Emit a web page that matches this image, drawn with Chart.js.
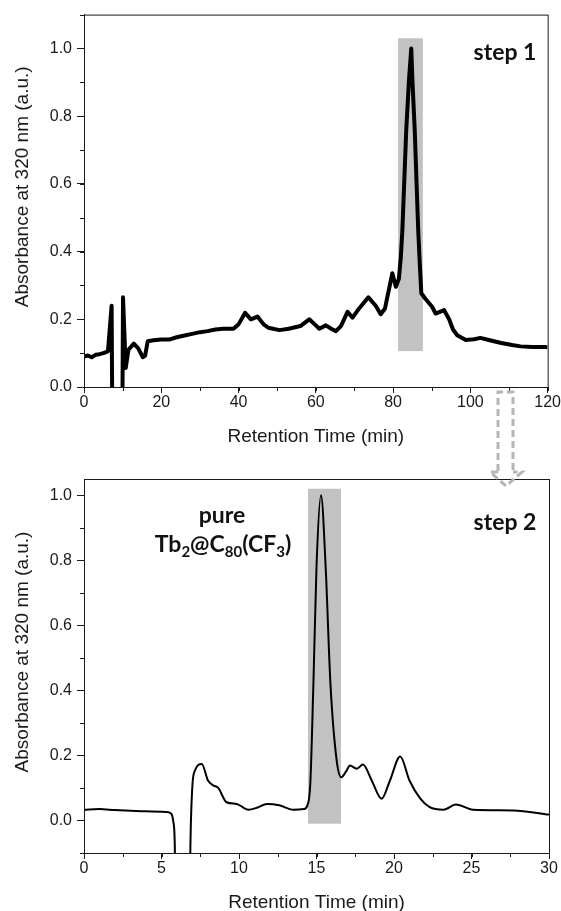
<!DOCTYPE html>
<html>
<head>
<meta charset="utf-8">
<script src="https://cdn.jsdelivr.net/npm/chart.js@4.4.1/dist/chart.umd.min.js"></script>
<style>
	html, body { margin: 0; padding: 0; background: #fff; width: 561px; height: 911px; overflow: hidden; }
	.panel { position: absolute; left: 0; }
	#arrow { position: absolute; left: 0; top: 0; pointer-events: none; }
</style>
</head>
<body>
<div class="panel" style="top:0"><canvas id="step1" width="561" height="450"></canvas></div>
<div class="panel" style="top:450px"><canvas id="step2" width="561" height="470"></canvas></div>
<svg id="arrow" width="561" height="911">
	<g fill="none" stroke="#b5b5b5" stroke-width="3" stroke-dasharray="7 4">
		<path d="M498 471 L498 392 L513 392 L513 471"/>
		<path d="M498 472 L490 472 L506 486 L522 472 L513 472"/>
	</g>
</svg>
<script>
// step 1: crude fraction, retention time (min) vs absorbance
const step1Time = [0, 1, 2, 3, 4, 5, 6.2, 7.15, 7.3, 9.95, 10.1, 10.8, 11.5, 12.9, 14, 15.2, 15.8, 16.5,
	18, 20, 22, 24, 26, 28, 30, 32, 34, 36, 38.7, 40, 41.7, 43.2, 44.9, 46.5, 47.7, 50.6, 53, 56,
	58.3, 60, 60.9, 62.6, 64, 65.2, 66.5, 68.2, 69.5, 71.2, 73.6, 75.5, 76.8, 77.9, 79.8, 80.7, 81.5,
	82.0, 82.4, 83.4, 84.1, 84.7, 85.0, 85.6, 86.5, 86.9, 87.3, 88.4, 90.1, 91.0, 93.2, 94.5, 95.5,
	96.6, 98.8, 101, 102.6, 105, 108, 110.8, 113, 116, 119.4, 120];
const step1Abs = [0.090, 0.093, 0.088, 0.095, 0.097, 0.100, 0.105, 0.240, -0.05, -0.05, 0.265, 0.056, 0.110, 0.128, 0.115, 0.088, 0.092, 0.135,
	0.138, 0.140, 0.140, 0.147, 0.152, 0.157, 0.162, 0.165, 0.170, 0.172, 0.172, 0.185, 0.219, 0.200, 0.208, 0.185, 0.175, 0.168, 0.172, 0.180,
	0.200, 0.182, 0.172, 0.182, 0.172, 0.165, 0.180, 0.222, 0.205, 0.232, 0.265, 0.240, 0.215, 0.232, 0.336, 0.296, 0.320,
	0.384, 0.463, 0.758, 0.906, 1.000, 0.906, 0.758, 0.463, 0.366, 0.277, 0.260, 0.237, 0.217, 0.227, 0.200, 0.170,
	0.153, 0.139, 0.141, 0.145, 0.138, 0.130, 0.124, 0.120, 0.118, 0.118, 0.117];
const step1Cut = [81.3, 87.7, 0.106, 1.03];

// step 2: recycled fraction
const step2Time = [0, 1, 2, 3, 4, 5.3, 5.6, 5.75, 5.85, 5.9, 6.8, 6.9, 7.0, 7.16, 7.6, 8.0, 8.34, 8.66,
	9.2, 9.85, 10.6, 11.2, 11.8, 12.6, 13.5, 14.2, 14.4, 14.6, 14.8, 15.0, 15.29, 15.59, 15.9, 16.3, 16.6,
	16.9, 17.16, 17.6, 18.0, 18.56, 19.2, 19.74, 20.4, 21.0, 21.7, 22.3, 23.2, 24.0, 25.1, 27.7, 30];
const step2Abs = [0.033, 0.035, 0.032, 0.030, 0.028, 0.026, 0.022, 0.0, -0.06, -0.2, -0.2, 0.0, 0.113, 0.154, 0.174, 0.123, 0.108, 0.100,
	0.056, 0.051, 0.033, 0.040, 0.051, 0.047, 0.033, 0.035, 0.045, 0.113, 0.420, 0.780, 1.000, 0.780, 0.420, 0.185, 0.133,
	0.150, 0.169, 0.159, 0.172, 0.123, 0.067, 0.123, 0.197, 0.123, 0.067, 0.041, 0.033, 0.049, 0.033, 0.031, 0.018];
const step2Cut = [14.45, 16.58, -0.01, 1.02];

const AXIS_FONT = '"Liberation Sans", Arial, sans-serif';
const NOTE_FONT = 'Lato, "Open Sans", sans-serif';
const INK = '#1a1a1a';

const bandPlugin = {
	id: 'band',
	beforeDatasetsDraw(chart, args, opts) {
		const { x, y } = chart.scales;
		const [x0, x1, y0, y1] = opts.range;
		const ctx = chart.ctx;
		ctx.save();
		ctx.fillStyle = '#c2c2c2';
		const left = x.getPixelForValue(x0), right = x.getPixelForValue(x1);
		const top = y.getPixelForValue(y1), bottom = y.getPixelForValue(y0);
		ctx.fillRect(left, top, right - left, bottom - top);
		ctx.restore();
	}
};

const framePlugin = {
	id: 'frame',
	afterDraw(chart, args, opts) {
		const { ctx, chartArea: a } = chart;
		const { x, y } = chart.scales;
		ctx.save();
		ctx.strokeStyle = INK;
		ctx.lineWidth = 1;
		ctx.strokeRect(a.left + 0.5, a.top + 0.5, a.right - a.left, a.bottom - a.top);
		// minor ticks
		ctx.beginPath();
		for (let v = x.min; v <= x.max + 1e-9; v += opts.minorX) {
			const px = Math.round(x.getPixelForValue(v)) + 0.5;
			ctx.moveTo(px, a.bottom);
			ctx.lineTo(px, a.bottom + 4);
		}
		for (let v = y.min; v <= y.max + 1e-9; v += opts.minorY) {
			const py = Math.round(y.getPixelForValue(v)) + 0.5;
			ctx.moveTo(a.left, py);
			ctx.lineTo(a.left - 4, py);
		}
		ctx.stroke();
		// y title, drawn by hand to match its offset
		ctx.translate(23, (a.top + a.bottom) / 2 - 14);
		ctx.rotate(-Math.PI / 2);
		ctx.fillStyle = INK;
		ctx.font = '19px ' + AXIS_FONT;
		ctx.textAlign = 'center';
		ctx.textBaseline = 'middle';
		ctx.fillText('Absorbance at 320 nm (a.u.)', 0, 0);
		ctx.restore();
	}
};

// rich labels: runs of [text, isSubscript]
const notesPlugin = {
	id: 'notes',
	afterDraw(chart, args, opts) {
		const ctx = chart.ctx;
		ctx.save();
		ctx.fillStyle = '#111';
		ctx.textBaseline = 'alphabetic';
		ctx.textAlign = 'left';
		opts.items.forEach(item => {
			const big = 'bold ' + item.size + 'px ' + NOTE_FONT;
			const small = 'bold ' + Math.round(item.size * 0.65) + 'px ' + NOTE_FONT;
			let width = 0;
			item.runs.forEach(([t, sub]) => { ctx.font = sub ? small : big; width += ctx.measureText(t).width; });
			let cx = item.x - width / 2;
			item.runs.forEach(([t, sub]) => {
				ctx.font = sub ? small : big;
				ctx.fillText(t, cx, item.y + (sub ? item.size * 0.2 : 0));
				cx += ctx.measureText(t).width;
			});
		});
		ctx.restore();
	}
};

function makeChart(id, xs, ys, cfg) {
	const points = xs.map((x, i) => ({ x, y: ys[i] }));
	const tickFont = { family: AXIS_FONT, size: 16 };
	return new Chart(document.getElementById(id), {
		type: 'line',
		data: {
			datasets: [{
				data: points,
				borderColor: '#000',
				borderWidth: cfg.lineWidth,
				pointRadius: 0,
				tension: cfg.tension,
				cubicInterpolationMode: cfg.mode,
				borderJoinStyle: 'round',
				fill: false
			}]
		},
		options: {
			responsive: false,
			animation: false,
			layout: { padding: { top: cfg.padTop, right: 12, left: 0, bottom: 0 } },
			plugins: {
				legend: { display: false },
				tooltip: { enabled: false },
				band: { range: cfg.cut },
				frame: { minorX: cfg.minorX, minorY: 0.1 },
				notes: { items: cfg.notes }
			},
			scales: {
				x: {
					type: 'linear',
					min: cfg.xMin, max: cfg.xMax,
					ticks: { stepSize: cfg.xStep, includeBounds: false, font: tickFont, color: INK, padding: 0, maxRotation: 0, autoSkip: false },
					grid: { drawOnChartArea: false, tickLength: 6, color: INK },
					border: { color: INK },
					title: { display: true, text: 'Retention Time (min)', font: { family: AXIS_FONT, size: 19, lineHeight: 1 }, color: INK, padding: { top: 0, bottom: cfg.titlePad } },
					afterFit: s => { s.height = cfg.xAxisH; }
				},
				y: {
					min: cfg.yMin, max: cfg.yMax,
					ticks: { stepSize: 0.2, includeBounds: false, font: tickFont, color: INK, padding: 5, callback: v => v.toFixed(1) },
					grid: { drawOnChartArea: false, tickLength: 7, color: INK },
					border: { color: INK },
					afterFit: s => { s.width = 84; }
				}
			}
		},
		plugins: [bandPlugin, framePlugin, notesPlugin]
	});
}

makeChart('step1', step1Time, step1Abs, {
	lineWidth: 4, tension: 0, mode: 'default', cut: step1Cut,
	xMin: 0, xMax: 120, xStep: 20, minorX: 10, yMin: 0, yMax: 1.1,
	padTop: 14, xAxisH: 63, titlePad: 4,
	notes: [{ x: 505, y: 60, size: 23, runs: [['step 1', false]] }]
});

makeChart('step2', step2Time, step2Abs, {
	lineWidth: 2, tension: 0.4, mode: 'monotone', cut: step2Cut,
	xMin: 0, xMax: 30, xStep: 5, minorX: 2.5, yMin: -0.1, yMax: 1.05,
	padTop: 29, xAxisH: 67, titlePad: 8,
	notes: [
		{ x: 505, y: 80, size: 23, runs: [['step 2', false]] },
		{ x: 222, y: 73, size: 23, runs: [['pure', false]] },
		{ x: 223, y: 102, size: 23, runs: [['Tb', false], ['2', true], ['@C', false], ['80', true], ['(CF', false], ['3', true], [')', false]] }
	]
});
</script>
</body>
</html>
